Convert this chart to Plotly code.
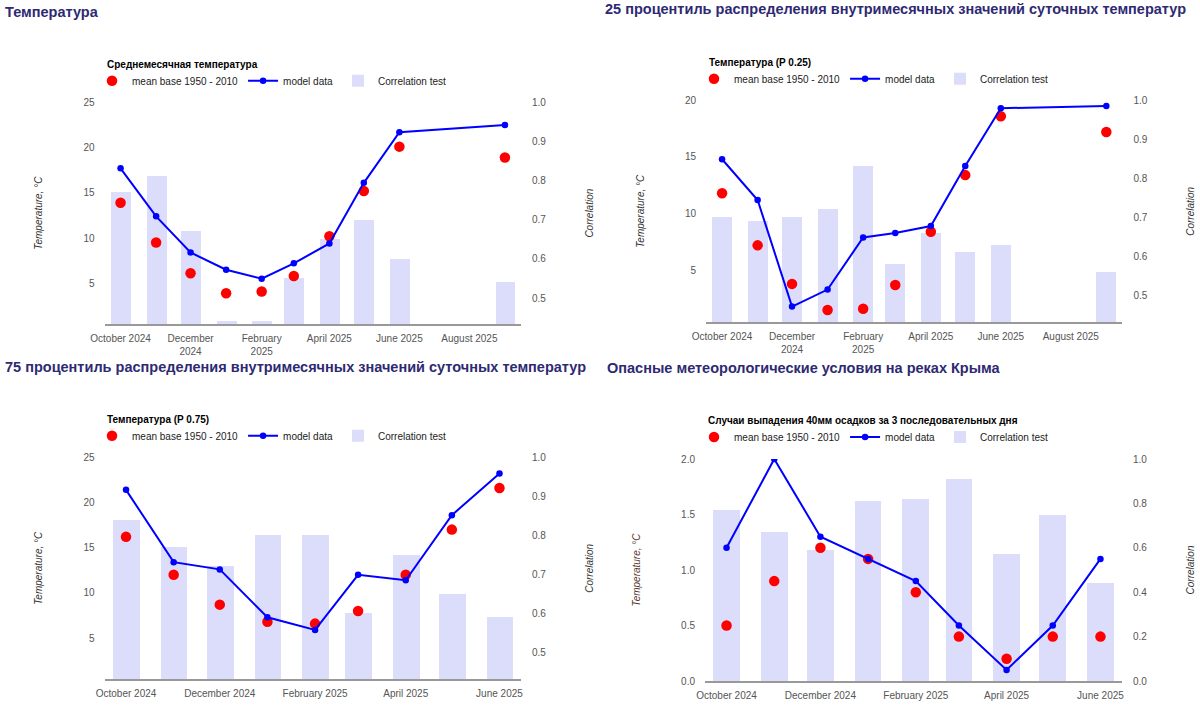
import plotly.graph_objects as go

W, H = 1200, 706

# ---------------- data ----------------
dates_a = ["2024-10-01", "2024-11-01", "2024-12-01", "2025-01-01", "2025-02-01",
           "2025-03-01", "2025-04-01", "2025-05-01", "2025-06-01", "2025-09-01"]
dates_b = ["2024-10-01", "2024-11-01", "2024-12-01", "2025-01-01", "2025-02-01",
           "2025-03-01", "2025-04-01", "2025-05-01", "2025-06-01"]

mean_tl = [13.9, 9.5, 6.1, 3.9, 4.1, 5.8, 10.2, 15.2, 20.1, 18.9]
model_tl = [17.7, 12.4, 8.4, 6.5, 5.5, 7.2, 9.4, 16.1, 21.7, 22.5]
corr_tl = [0.77, 0.81, 0.67, 0.44, 0.44, 0.55, 0.65, 0.70, 0.60, 0.54]

mean_tr = [11.8, 7.2, 3.8, 1.5, 1.6, 3.7, 8.4, 13.4, 18.6, 17.2]
model_tr = [14.8, 11.2, 1.8, 3.3, 7.9, 8.3, 8.9, 14.2, 19.3, 19.5]
corr_tr = [0.70, 0.69, 0.70, 0.72, 0.83, 0.58, 0.66, 0.61, 0.63, 0.56]

mean_bl = [16.2, 12.0, 8.7, 6.8, 6.6, 8.0, 12.0, 17.0, 21.6]
model_bl = [21.4, 13.4, 12.6, 7.3, 5.9, 12.0, 11.4, 18.6, 23.2]
corr_bl = [0.84, 0.77, 0.72, 0.80, 0.80, 0.60, 0.75, 0.65, 0.59]

mean_br = [0.5, 0.9, 1.2, 1.1, 0.8, 0.4, 0.2, 0.4, 0.4]
model_br = [1.2, 2.0, 1.3, 1.1, 0.9, 0.5, 0.1, 0.5, 1.1]
corr_br = [0.77, 0.67, 0.59, 0.81, 0.82, 0.91, 0.57, 0.75, 0.44]

xtick_vals_a = ["2024-10-01", "2024-12-01", "2025-02-01", "2025-04-01", "2025-06-01", "2025-08-01"]
xtick_text_a = ["October 2024", "December<br>2024", "February<br>2025", "April 2025", "June 2025", "August 2025"]
xtick_vals_b = ["2024-10-01", "2024-12-01", "2025-02-01", "2025-04-01", "2025-06-01"]
xtick_text_b = ["October 2024", "December 2024", "February 2025", "April 2025", "June 2025"]

temp_ticks_25 = [5, 10, 15, 20, 25]
temp_ticks_20 = [5, 10, 15, 20]
count_ticks = [0.0, 0.5, 1.0, 1.5, 2.0]
corr_ticks_hi = [0.5, 0.6, 0.7, 0.8, 0.9, 1.0]
corr_ticks_full = [0.0, 0.2, 0.4, 0.6, 0.8, 1.0]

main_titles = ["Температура",
               "25 процентиль распределения внутримесячных значений суточных температур",
               "75 процентиль распределения внутримесячных значений суточных температур",
               "Опасные метеорологические условия на реках Крыма"]
chart_titles = ["Среднемесячная температура", "Температура (P 0.25)",
                "Температура (P 0.75)", "Случаи выпадения 40мм осадков за 3 последовательных дня"]

names = ["mean base 1950 - 2010", "model data", "Correlation test"]

# ---------------- styling ----------------
FONT = "Arial, Liberation Sans, sans-serif"
RED = "#ff0000"
BLUE = "#0000ff"
BAR = "#dcdcfb"
TITLE_C = "#2e2a72"
TICK_C = "#555555"
BAR_W = 0.618 * 28 * 86400000

def px_x(p):
    return p / W

def px_y(p):
    return 1 - p / H

panels = [
    dict(dates=dates_a, mean=mean_tl, model=model_tl, corr=corr_tl,
         xd=(104.5, 521), yd=(102.3, 324), xr=["2024-09-17", "2025-09-15"],
         tr=[0.5, 25], tt=temp_ticks_25, tf="", cr=[0.434, 1.0], ct=corr_ticks_hi,
         xtv=xtick_vals_a, xtt=xtick_text_a, ytc="#333333",
         main=(3, 12), sub=(104.5, 64.7), leg=(92, 80.7)),
    dict(dates=dates_a, mean=mean_tr, model=model_tr, corr=corr_tr,
         xd=(706, 1122.4), yd=(100.3, 322.3), xr=["2024-09-17", "2025-09-15"],
         tr=[0.41, 20], tt=temp_ticks_20, tf="", cr=[0.432, 1.0], ct=corr_ticks_hi,
         xtv=xtick_vals_a, xtt=xtick_text_a, ytc="#333333",
         main=(603, 9), sub=(706.5, 62.3), leg=(694, 78.7)),
    dict(dates=dates_b, mean=mean_bl, model=model_bl, corr=corr_bl,
         xd=(104.5, 521), yd=(457.3, 679.3), xr=["2024-09-17", "2025-06-15"],
         tr=[0.44, 25], tt=temp_ticks_25, tf="", cr=[0.432, 1.0], ct=corr_ticks_hi,
         xtv=xtick_vals_b, xtt=xtick_text_b, ytc="#333333",
         main=(3, 367), sub=(104.5, 419), leg=(92, 435.7)),
    dict(dates=dates_b, mean=mean_br, model=model_br, corr=corr_br,
         xd=(705, 1122), yd=(459, 681), xr=["2024-09-17", "2025-06-15"],
         tr=[0, 2], tt=count_ticks, tf=".1f", cr=[0, 1.0], ct=corr_ticks_full,
         xtv=xtick_vals_b, xtt=xtick_text_b, ytc="#5a3a30",
         main=(605, 368), sub=(706, 420.7), leg=(694, 437)),
]

fig = go.Figure()
layout = {}
annotations = []

for i, p in enumerate(panels):
    k = i + 1
    xa = "x" if k == 1 else f"x{k}"
    ycor = "y" if k == 1 else f"y{2*k-1}"       # base axis: correlation (right)
    ytmp = f"y{2*k}"                              # overlay axis: temperature (left)
    leg = "legend" if k == 1 else f"legend{k}"

    fig.add_trace(go.Bar(x=p["dates"], y=p["corr"], name=names[2], width=BAR_W,
                         marker=dict(color=BAR, line=dict(width=0)),
                         xaxis=xa, yaxis=ycor, legend=leg, legendrank=3))
    fig.add_trace(go.Scatter(x=p["dates"], y=p["mean"], name=names[0], mode="markers",
                             marker=dict(color=RED, size=10.5),
                             xaxis=xa, yaxis=ytmp, legend=leg, legendrank=1))
    fig.add_trace(go.Scatter(x=p["dates"], y=p["model"], name=names[1], mode="lines+markers",
                             line=dict(color=BLUE, width=2), marker=dict(color=BLUE, size=6.5),
                             xaxis=xa, yaxis=ytmp, legend=leg, legendrank=2))

    xd = [px_x(p["xd"][0]), px_x(p["xd"][1])]
    yd = [px_y(p["yd"][1]), px_y(p["yd"][0])]
    xkey = "xaxis" if k == 1 else f"xaxis{k}"
    ycorkey = "yaxis" if k == 1 else f"yaxis{2*k-1}"
    ytmpkey = f"yaxis{2*k}"

    layout[xkey] = dict(domain=xd, type="date", range=p["xr"], anchor=ycor,
                        tickvals=p["xtv"], ticktext=p["xtt"], ticks="",
                        showgrid=False, zeroline=False, showline=True,
                        linecolor="#999999", linewidth=1.5, automargin=False,
                        tickfont=dict(family=FONT, size=10, color=TICK_C),
                        ticklabelstandoff=4)
    layout[ycorkey] = dict(domain=yd, anchor=xa, side="right", range=p["cr"],
                           tickvals=p["ct"], tickformat=".1f", ticks="",
                           showgrid=False, zeroline=False, showline=False, automargin=False,
                           tickfont=dict(family=FONT, size=10, color=TICK_C),
                           ticklabelstandoff=10,
                           title=dict(text="Correlation", standoff=40,
                                      font=dict(family=FONT, size=10, color="#333333", style="italic")))
    layout[ytmpkey] = dict(overlaying=ycor, anchor=xa, side="left", range=p["tr"],
                           tickvals=p["tt"], tickformat=p["tf"], ticks="",
                           showgrid=False, zeroline=False, showline=False, automargin=False,
                           tickfont=dict(family=FONT, size=10, color=TICK_C),
                           ticklabelstandoff=9,
                           title=dict(text="Temperature, °C", standoff=38,
                                      font=dict(family=FONT, size=10, color=p["ytc"], style="italic")))
    layout[leg] = dict(orientation="h", x=px_x(p["leg"][0]), xanchor="left",
                       y=px_y(p["leg"][1]), yanchor="middle", bgcolor="rgba(0,0,0,0)",
                       font=dict(family=FONT, size=10, color="#222222"),
                       itemclick=False, itemdoubleclick=False, traceorder="normal")

    annotations.append(dict(text=main_titles[i], x=px_x(p["main"][0]), y=px_y(p["main"][1]),
                            xref="paper", yref="paper", xanchor="left", yanchor="middle",
                            showarrow=False,
                            font=dict(family=FONT, size=14.5, color=TITLE_C, weight="bold")))
    annotations.append(dict(text=chart_titles[i], x=px_x(p["sub"][0]), y=px_y(p["sub"][1]),
                            xref="paper", yref="paper", xanchor="left", yanchor="middle",
                            showarrow=False,
                            font=dict(family=FONT, size=10, color="#000000", weight="bold")))

fig.update_layout(**layout)
fig.update_layout(width=W, height=H,
                  margin=dict(l=0, r=0, t=0, b=0, pad=0, autoexpand=False),
                  paper_bgcolor="white", plot_bgcolor="white",
                  annotations=annotations, barmode="overlay", bargap=0,
                  hovermode=False, font=dict(family=FONT))

fig.write_html("out.html", config={"displayModeBar": False},
               post_script="document.body.style.margin='0';document.body.style.overflow='hidden';")
